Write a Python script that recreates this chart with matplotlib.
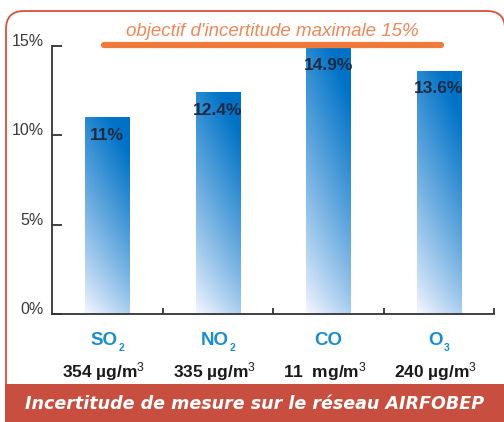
import numpy as np
import matplotlib
matplotlib.use("Agg")
import matplotlib.pyplot as plt
from matplotlib.patches import FancyBboxPatch, Rectangle
from matplotlib.transforms import ScaledTranslation

# donnees
polluants = ["SO", "NO", "CO", "O"]
indices = ["2", "2", "", "3"]
valeurs = [11.0, 12.4, 14.9, 13.6]
etiquettes = ["11%", "12.4%", "14.9%", "13.6%"]
unites = ["354 µg/m$^3$", "335 µg/m$^3$", "11  mg/m$^3$", "240 µg/m$^3$"]
objectif = 15
titre_objectif = "objectif d'incertitude maximale 15%"
titre = "Incertitude de mesure sur le réseau AIRFOBEP"

plt.rcParams['font.family'] = ['Liberation Sans', 'DejaVu Sans']
plt.rcParams['mathtext.fontset'] = 'custom'
plt.rcParams['mathtext.rm'] = 'Liberation Sans'
plt.rcParams['mathtext.bf'] = 'Liberation Sans:bold'
plt.rcParams['mathtext.default'] = 'rm'

fig = plt.figure(figsize=(5.04, 4.22), dpi=100)
W, H = 504, 422

# cadre arrondi rouge
cadre = FancyBboxPatch((6 / 100, -0.3), 499 / 100, (411 + 30) / 100,
                       boxstyle="round,pad=0,rounding_size=0.18",
                       transform=fig.dpi_scale_trans, fill=False,
                       edgecolor="#d9503f", linewidth=1.3, zorder=0)
fig.patches.append(cadre)
# bandeau du bas
bandeau = Rectangle((5 / W, 0), 1, 38 / H, transform=fig.transFigure,
                    facecolor="#c84f40", edgecolor="none", zorder=1)
fig.patches.append(bandeau)
fig.text((6 + 498 / 2) / W, 18 / H, titre, color="white", fontsize=12.6,
         fontweight="bold", fontstyle="italic", family="DejaVu Sans",
         ha="center", va="center", zorder=2)

ax = fig.add_axes([52 / W, (H - 314) / H, 442 / W, 268 / H])
x = np.arange(len(valeurs))
barres = ax.bar(x, valeurs, width=0.4, facecolor="none", edgecolor="none")

# degrade bleu dans chaque barre
clair = np.array([0.95, 0.96, 1.0])
fonce = np.array([0.0, 0.45, 0.78])
ny, nx = 100, 40
vv = np.linspace(0, 1, ny)[:, None]
hh = np.linspace(0, 1, nx)[None, :]
for b in barres:
    i = np.clip(0.85 * vv ** 0.8 + 0.3 * hh - 0.02, 0, 1)
    img = clair[None, None, :] * (1 - i[..., None]) + fonce[None, None, :] * i[..., None]
    x0, y0 = b.get_x(), b.get_y()
    im = ax.imshow(img, extent=[x0, x0 + b.get_width(), y0, y0 + b.get_height()],
                   origin="lower", aspect="auto", interpolation="bilinear", zorder=2)
    im.set_clip_path(b)

for xi, v, t in zip(x, valeurs, etiquettes):
    ax.text(xi, v - 1.0, t, ha="center", va="center", fontsize=12.5,
            fontweight="bold", color="#1d2b45", zorder=3)

for xi, p, ind, u in zip(x, polluants, indices, unites):
    dx = -3 / 100 if ind else 0
    tp = ax.text(xi, -31 / 268, p,
                 transform=ax.get_xaxis_transform() + ScaledTranslation(dx, 0, fig.dpi_scale_trans),
                 ha="center", va="baseline", fontsize=13.5, fontweight="bold",
                 color="#1b8dcf")
    if ind:
        ax.annotate(ind, xy=(1, 0), xycoords=tp, xytext=(0.3, -1.5),
                    textcoords="offset points", ha="left", va="baseline",
                    fontsize=7.5, fontweight="bold", color="#1b8dcf")
    ax.text(xi - 0.03, -63 / 268, u, transform=ax.get_xaxis_transform(), ha="center",
            va="baseline", fontsize=12.5, fontweight="bold", color="#1a1a1a")

# ligne objectif
ax.plot([-0.03, 3.02], [objectif + 0.05, objectif + 0.05], color="#f07a3c",
        linewidth=4.5, solid_capstyle="round", clip_on=False, zorder=4)
ax.text(1.49, objectif + 0.8, titre_objectif, ha="center", va="center",
        fontsize=13.5, fontstyle="italic", color="#f0875a", clip_on=False)

ax.set_xlim(-0.5, 3.5)
ax.set_ylim(0, 15)
ax.set_yticks([0, 5, 10, 15])
ax.set_yticklabels(["0%", "5%", "10%", "15%"])
ax.set_xticks([0.5, 1.5, 2.5, 3.5])
ax.set_xticklabels([])
ax.tick_params(axis="y", direction="in", length=7, width=1.3, pad=6,
               labelsize=11.5, labelcolor="#3a3a3a", color="#333333")
ax.tick_params(axis="x", direction="in", length=4.5, width=1.3, color="#333333")
for lab in ax.get_yticklabels():
    lab.set_transform(lab.get_transform() + ScaledTranslation(0, 6 / 100, fig.dpi_scale_trans))
for s in ["top", "right"]:
    ax.spines[s].set_visible(False)
for s in ["left", "bottom"]:
    ax.spines[s].set_color("#333333")
    ax.spines[s].set_linewidth(1.3)
ax.patch.set_alpha(0)

fig.savefig("out.png", dpi=100)
